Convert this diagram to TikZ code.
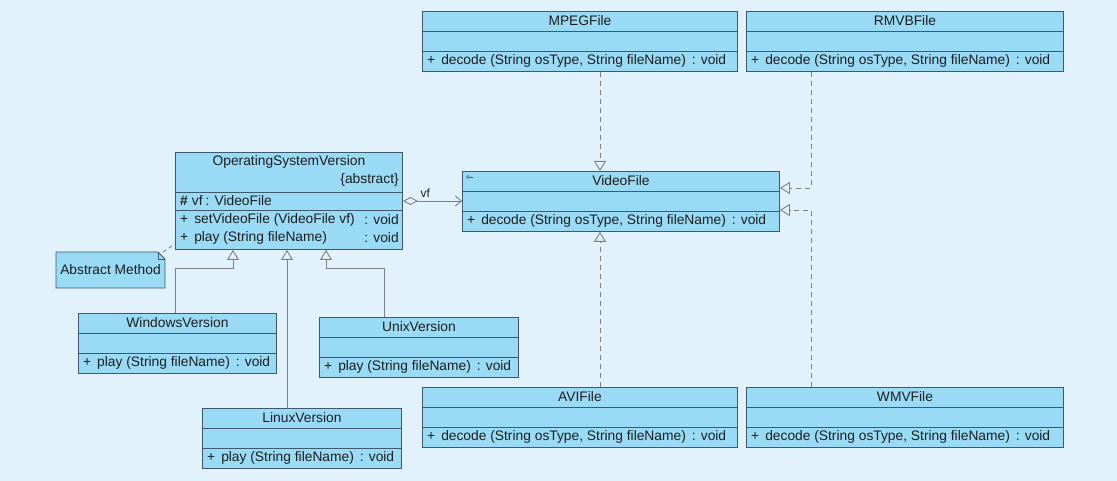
\documentclass[tikz,border=0pt]{standalone}
\usepackage{fontspec}
\setmainfont{Liberation Sans}
\usetikzlibrary{arrows.meta}
\definecolor{bgc}{RGB}{226,242,252}
\definecolor{boxc}{RGB}{153,218,245}
\definecolor{edgec}{RGB}{62,88,108}
\definecolor{linec}{RGB}{128,128,128}
\definecolor{txtc}{RGB}{30,30,30}
\tikzset{
 cls/.style={draw=edgec, fill=boxc, line width=0.9pt, inner sep=0pt, anchor=north west},
 txt/.style={inner sep=0pt, font=\fontsize{13.8}{15}\selectfont, text=txtc},
 smalltxt/.style={inner sep=0pt, font=\fontsize{12}{13}\selectfont, text=txtc},
 dividerline/.style={draw=edgec, line width=0.9pt},
 realize/.style={draw=linec, line width=0.9pt, dash pattern=on 5pt off 4pt, -{Triangle[open,length=10pt,width=12pt]}},
 inherit/.style={draw=linec, line width=0.9pt, -{Triangle[open,length=10pt,width=12pt]}},
 aggr/.style={draw=linec, line width=0.9pt, {Diamond[open,length=15pt,width=8pt]}-{Straight Barb[length=6pt,width=10pt]}},
 notelink/.style={draw=linec, line width=0.9pt, dash pattern=on 4pt off 3pt},
}
\newcommand\umlclass[6]{%
 \node[cls, minimum width=#4pt, minimum height=60pt] (#1) at (#2,#3) {};
 \draw[dividerline] ([yshift=-20pt]#1.north west) -- ([yshift=-20pt]#1.north east);
 \draw[dividerline] ([yshift=-40pt]#1.north west) -- ([yshift=-40pt]#1.north east);
 \node[txt] (#1-t) at ([yshift=-10pt]#1.north) {#5};
 \node[txt, anchor=west] (#1-o) at ([xshift=5pt,yshift=-50pt]#1.north west) {#6};
}
\begin{document}
\begin{tikzpicture}[x=1pt,y=-1pt]
\fill[bgc] (0,0) rectangle (1117,481);
\useasboundingbox (0,0) rectangle (1117,481);

\umlclass{mpeg}{422}{11}{315}{MPEGFile}{+\hspace{6pt}decode (String osType, String fileName)\hspace{6pt}: void}
\umlclass{rmvb}{746}{11}{317}{RMVBFile}{+\hspace{6pt}decode (String osType, String fileName)\hspace{6pt}: void}
\umlclass{vf}{462}{171}{317}{VideoFile}{+\hspace{6pt}decode (String osType, String fileName)\hspace{6pt}: void}
\umlclass{avi}{422}{387}{315}{AVIFile}{+\hspace{6pt}decode (String osType, String fileName)\hspace{6pt}: void}
\umlclass{wmv}{746}{387}{317}{WMVFile}{+\hspace{6pt}decode (String osType, String fileName)\hspace{6pt}: void}
\umlclass{win}{78}{313}{198}{WindowsVersion}{+\hspace{6pt}play (String fileName)\hspace{6pt}: void}
\umlclass{unix}{319}{317}{199}{UnixVersion}{+\hspace{6pt}play (String fileName)\hspace{6pt}: void}
\umlclass{linux}{202}{408}{199}{LinuxVersion}{+\hspace{6pt}play (String fileName)\hspace{6pt}: void}

% interface mark on VideoFile
\draw[edgec, line width=0.5pt] ([xshift=6pt,yshift=-6pt]vf.north west) circle (1.5pt);
\draw[edgec, line width=0.5pt] ([xshift=7.5pt,yshift=-6pt]vf.north west) -- ++(3,0);

% OperatingSystemVersion
\node[cls, minimum width=227pt, minimum height=97pt] (osv) at (175,152) {};
\draw[dividerline] ([yshift=-40pt]osv.north west) -- ([yshift=-40pt]osv.north east);
\draw[dividerline] ([yshift=-58pt]osv.north west) -- ([yshift=-58pt]osv.north east);
\node[txt] (osv-t) at ([yshift=-10pt]osv.north) {OperatingSystemVersion};
\node[txt, anchor=east] (osv-abs) at ([xshift=-4pt,yshift=-28pt]osv.north east) {\{abstract\}};
\node[txt, anchor=west] (osv-a) at ([xshift=5pt,yshift=-49pt]osv.north west) {\textbf{\#}\hspace{4pt}vf\hspace{3pt}: VideoFile};
\node[txt, anchor=west] (osv-o1) at ([xshift=5pt,yshift=-68pt]osv.north west) {+\hspace{6pt}setVideoFile (VideoFile vf)};
\node[txt, anchor=east] (osv-v1) at ([xshift=-4pt,yshift=-68pt]osv.north east) {: void};
\node[txt, anchor=west] (osv-o2) at ([xshift=5pt,yshift=-86pt]osv.north west) {+\hspace{6pt}play (String fileName)};
\node[txt, anchor=east] (osv-v2) at ([xshift=-4pt,yshift=-86pt]osv.north east) {: void};

% note
\filldraw[fill=boxc, draw=edgec, line width=0.9pt] (56,288) -- (56,252) -- (158,252) -- (165,259) -- (165,288) -- cycle;
\draw[edgec, line width=0.6pt] (158,252) -- (158,259) -- (165,259);
\node[txt] (note) at (110.5,270) {Abstract Method};
\draw[notelink] (163,252) -- ([yshift=6pt]osv.south west);

% realizations
\draw[realize] ([xshift=178pt]mpeg.south west) -- ([xshift=138pt]vf.north west);
\draw[realize] ([xshift=178pt]avi.north west) -- ([xshift=138pt]vf.south west);
\draw[realize] ([xshift=65pt]rmvb.south west) |- ([yshift=-17pt]vf.north east);
\draw[realize] ([xshift=65pt]wmv.north west) |- ([yshift=-39pt]vf.north east);

% generalizations
\draw[inherit] ([xshift=97pt]win.north west) |- ([xshift=58pt,yshift=-19pt]osv.south west) -- ([xshift=58pt]osv.south west);
\draw[inherit] ([xshift=85pt]linux.north west) -- ([xshift=112pt]osv.south west);
\draw[inherit] ([xshift=65pt]unix.north west) |- ([xshift=151pt,yshift=-19pt]osv.south west) -- ([xshift=151pt]osv.south west);

% aggregation
\draw[aggr] ([yshift=-49pt]osv.north east) -- node[smalltxt, pos=0.38, above=3pt] {vf} ([yshift=-30pt]vf.north west);
\end{tikzpicture}
\end{document}
